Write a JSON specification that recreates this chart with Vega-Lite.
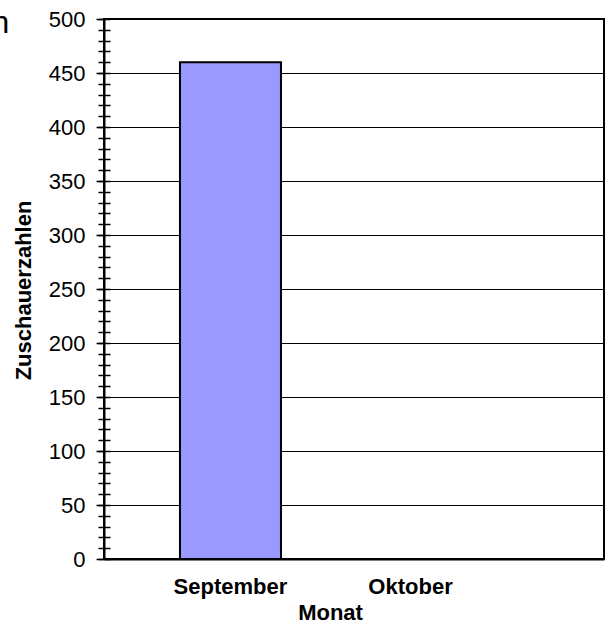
{
  "$schema": "https://vega.github.io/schema/vega-lite/v6.json",
  "width": 500,
  "height": 540,
  "autosize": "none",
  "padding": {"left": 104, "top": 19, "right": 10, "bottom": 67},
  "background": "white",
  "config": {
    "view": {"stroke": "black", "strokeWidth": 2},
    "font": "Liberation Sans"
  },
  "data": {
    "values": [
      {"Monat": "September", "Zuschauer": 460},
      {"Monat": "Oktober", "Zuschauer": null}
    ]
  },
  "layer": [
    {
      "mark": {"type": "bar", "fill": "#9999FF", "stroke": "black", "strokeWidth": 2},
      "encoding": {
        "x": {
          "field": "Monat",
          "type": "nominal",
          "sort": ["September", "Oktober"],
          "scale": {"domain": ["September", "Oktober"], "paddingInner": 0.439, "paddingOuter": 0.608, "align": 0.347},
          "axis": {
            "labelAngle": 0,
            "ticks": false,
            "domainColor": "black",
            "domainWidth": 2,
            "labelFont": "Liberation Sans",
            "labelFontSize": 22,
            "labelFontWeight": "bold",
            "labelColor": "black",
            "labelPadding": 17,
            "title": "Monat",
            "titleFont": "Liberation Sans",
            "titleFontSize": 22,
            "titleFontWeight": "bold",
            "titleColor": "black",
            "titleX": 226,
            "titleY": 53,
            "titleBaseline": "middle"
          }
        },
        "y": {
          "field": "Zuschauer",
          "type": "quantitative",
          "scale": {"domain": [0, 500], "nice": false},
          "axis": {
            "values": [0, 50, 100, 150, 200, 250, 300, 350, 400, 450, 500],
            "grid": true,
            "gridColor": "black",
            "gridWidth": 1,
            "gridOpacity": 1,
            "domainColor": "black",
            "domainWidth": 2,
            "tickColor": "black",
            "tickWidth": 1.5,
            "tickSize": 8,
            "labelFont": "Liberation Sans",
            "labelFontSize": 22,
            "labelColor": "black",
            "labelPadding": 11,
            "title": "Zuschauerzahlen",
            "titleFont": "Liberation Sans",
            "titleFontSize": 22,
            "titleFontWeight": "bold",
            "titleColor": "black",
            "titleAngle": -90,
            "titleX": -81,
            "titleY": 271,
            "titleAlign": "center",
            "titleBaseline": "middle"
          }
        }
      }
    },
    {
      "mark": {"type": "point", "opacity": 0},
      "encoding": {
        "y": {
          "field": "Zuschauer",
          "type": "quantitative",
          "axis": {
            "orient": "left",
            "values": [0, 10, 20, 30, 40, 50, 60, 70, 80, 90, 100, 110, 120, 130, 140, 150, 160, 170, 180, 190, 200, 210, 220, 230, 240, 250, 260, 270, 280, 290, 300, 310, 320, 330, 340, 350, 360, 370, 380, 390, 400, 410, 420, 430, 440, 450, 460, 470, 480, 490, 500],
            "offset": -6,
            "tickSize": 12,
            "tickColor": "black",
            "tickWidth": 1.5,
            "domain": false,
            "labels": false,
            "grid": false,
            "title": "n",
            "titleFont": "Liberation Sans",
            "titleFontSize": 32,
            "titleFontWeight": "normal",
            "titleColor": "black",
            "titleAngle": 0,
            "titleAlign": "left",
            "titleBaseline": "alphabetic",
            "titleX": -119,
            "titleY": 13
          }
        }
      }
    }
  ],
  "resolve": {"axis": {"y": "independent"}}
}
